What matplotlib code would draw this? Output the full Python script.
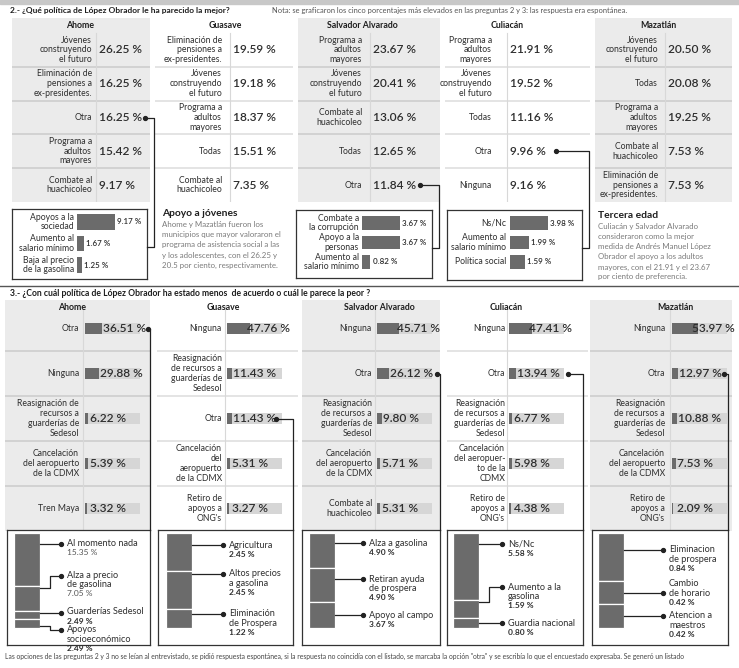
import matplotlib.pyplot as plt

plt.rcParams['font.family'] = ['Lato', 'DejaVu Sans']

W, H = 739, 668

# ---------- pregunta 2: las cinco respuestas mas altas ----------
ahome_q2_labels = ["Jóvenes\nconstruyendo\nel futuro", "Eliminación de\npensiones a\nex-presidentes.",
                   "Otra", "Programa a\nadultos\nmayores", "Combate al\nhuachicoleo"]
ahome_q2_values = [26.25, 16.25, 16.25, 15.42, 9.17]
guasave_q2_labels = ["Eliminación de\npensiones a\nex-presidentes.", "Jóvenes\nconstruyendo\nel futuro",
                     "Programa a\nadultos\nmayores", "Todas", "Combate al\nhuachicoleo"]
guasave_q2_values = [19.59, 19.18, 18.37, 15.51, 7.35]
salvador_q2_labels = ["Programa a\nadultos\nmayores", "Jóvenes\nconstruyendo\nel futuro",
                      "Combate al\nhuachicoleo", "Todas", "Otra"]
salvador_q2_values = [23.67, 20.41, 13.06, 12.65, 11.84]
culiacan_q2_labels = ["Programa a\nadultos\nmayores", "Jóvenes\nconstruyendo\nel futuro",
                      "Todas", "Otra", "Ninguna"]
culiacan_q2_values = [21.91, 19.52, 11.16, 9.96, 9.16]
mazatlan_q2_labels = ["Jóvenes\nconstruyendo\nel futuro", "Todas", "Programa a\nadultos\nmayores",
                      "Combate al\nhuachicoleo", "Eliminación de\npensiones a\nex-presidentes."]
mazatlan_q2_values = [20.50, 20.08, 19.25, 7.53, 7.53]

# desglose de "Otra" (pregunta 2)
ahome_q2_otra_labels = ["Apoyos a la\nsociedad", "Aumento al\nsalario mínimo", "Baja al precio\nde la gasolina"]
ahome_q2_otra_values = [9.17, 1.67, 1.25]
salvador_q2_otra_labels = ["Combate a\nla corrupción", "Apoyo a la\npersonas", "Aumento al\nsalario mínimo"]
salvador_q2_otra_values = [3.67, 3.67, 0.82]
culiacan_q2_otra_labels = ["Ns/Nc", "Aumento al\nsalario mínimo", "Política social"]
culiacan_q2_otra_values = [3.98, 1.99, 1.59]

# ---------- pregunta 3 ----------
ahome_q3_labels = ["Otra", "Ninguna", "Reasignación de\nrecursos a\nguarderías de\nSedesol",
                   "Cancelación\ndel aeropuerto\nde la CDMX", "Tren Maya"]
ahome_q3_values = [36.51, 29.88, 6.22, 5.39, 3.32]
guasave_q3_labels = ["Ninguna", "Reasignación\nde recursos a\nguarderías de\nSedesol", "Otra",
                     "Cancelación\ndel\naeropuerto\nde la CDMX", "Retiro de\napoyos a\nONG's"]
guasave_q3_values = [47.76, 11.43, 11.43, 5.31, 3.27]
salvador_q3_labels = ["Ninguna", "Otra", "Reasignación\nde recursos a\nguarderías de\nSedesol",
                      "Cancelación\ndel aeropuerto\nde la CDMX", "Combate al\nhuachicoleo"]
salvador_q3_values = [45.71, 26.12, 9.80, 5.71, 5.31]
culiacan_q3_labels = ["Ninguna", "Otra", "Reasignación\nde recursos a\nguarderías de\nSedesol",
                      "Cancelación\ndel aeropuer-\nto de la\nCDMX", "Retiro de\napoyos a\nONG's"]
culiacan_q3_values = [47.41, 13.94, 6.77, 5.98, 4.38]
mazatlan_q3_labels = ["Ninguna", "Otra", "Reasignación\nde recursos a\nguarderías de\nSedesol",
                      "Cancelación\ndel aeropuerto\nde la CDMX", "Retiro de\napoyos a\nONG's"]
mazatlan_q3_values = [53.97, 12.97, 10.88, 7.53, 2.09]

# desglose de "Otra" (pregunta 3)
ahome_q3_otra_labels = ["Al momento nada", "Alza a precio\nde gasolina", "Guarderías Sedesol", "Apoyos\nsocioeconómico"]
ahome_q3_otra_values = [15.35, 7.05, 2.49, 2.49]
guasave_q3_otra_labels = ["Agricultura", "Altos precios\na gasolina", "Eliminación\nde Prospera"]
guasave_q3_otra_values = [2.45, 2.45, 1.22]
salvador_q3_otra_labels = ["Alza a gasolina", "Retiran ayuda\nde prospera", "Apoyo al campo"]
salvador_q3_otra_values = [4.90, 4.90, 3.67]
culiacan_q3_otra_labels = ["Ns/Nc", "Aumento a la\ngasolina", "Guardia nacional"]
culiacan_q3_otra_values = [5.58, 1.59, 0.80]
mazatlan_q3_otra_labels = ["Eliminacion\nde prospera", "Cambio\nde horario", "Atencion a\nmaestros"]
mazatlan_q3_otra_values = [0.84, 0.42, 0.42]

DARK = '#6b6b6b'
TRACK = '#d6d6d6'
PANEL = '#ebebeb'
TXT = '#2e2e2e'
SOFT = '#7a7a7a'
SCALE_MAX = 115  # ancho de la pista gris en la pregunta 3

fig = plt.figure(figsize=(W / 100, H / 100), dpi=100)

over = fig.add_axes([0, 0, 1, 1], zorder=20)
over.set_xlim(0, W)
over.set_ylim(H, 0)
over.axis('off')


def px_axes(x0, y0, x1, y1, z=1):
    ax = fig.add_axes([x0 / W, 1 - y1 / H, (x1 - x0) / W, (y1 - y0) / H], zorder=z)
    ax.set_xticks([])
    ax.set_yticks([])
    for s in ax.spines.values():
        s.set_visible(False)
    return ax


def boxed(ax):
    ax.set_facecolor('white')
    for s in ax.spines.values():
        s.set_visible(True)
        s.set_color('#333333')
        s.set_linewidth(0.9)


def to_px(ax, x, y):
    return over.transData.inverted().transform(ax.transData.transform((x, y)))


def pct(v):
    return f"{v:.2f} %"


def link(points):
    xs = [p[0] for p in points]
    ys = [p[1] for p in points]
    over.plot(xs, ys, color='#222222', lw=0.9)
    over.plot(xs[0], ys[0], 'o', color='#222222', ms=2.8)


def q2_panel(labels, values, x0, x1, label_r, value_x, shaded):
    n = len(values)
    row_h = (202 - 33) / n
    ax = px_axes(x0, 18, x1, 202)
    ax.set_xlim(x0, x1)
    ax.set_ylim(n - 0.5, -0.5 - 15 / row_h)
    ax.set_facecolor(PANEL if shaded else 'white')
    for i in range(n):
        ax.text(label_r, i, labels[i], ha='right', va='center', fontsize=6.2,
                color=TXT, linespacing=1.1)
        ax.text(value_x, i, pct(values[i]), ha='left', va='center', fontsize=8.6,
                color=TXT, weight='semibold')
    for i in range(n - 1):
        ax.axhline(i + 0.5, color='#d0d0d0' if shaded else '#e2e2e2', lw=1.3)
    ax.plot([value_x - 3, value_x - 3], [-0.5, n - 0.5], color='#d8d8d8', lw=0.8)
    return ax


def q2_box(labels, values, x0, y0, x1, y1, bar_x, label_r, first_y, last_y):
    n = len(values)
    ax = px_axes(x0, y0, x1, y1, z=2)
    boxed(ax)
    per_px = max(values) / 38
    row_h = (last_y - first_y) / (n - 1)
    ax.set_xlim(-(bar_x - x0) * per_px, (x1 - bar_x) * per_px)
    ax.set_ylim(n - 1 + (y1 - last_y) / row_h, -(first_y - y0) / row_h)
    ax.barh(range(n), values, height=0.7, color=DARK)
    for i in range(n):
        ax.text(-(bar_x - label_r) * per_px, i, labels[i], ha='right', va='center',
                fontsize=6.2, color=TXT, linespacing=1.05)
        ax.annotate(pct(values[i]), (values[i], i), xytext=(1.5, 0), textcoords='offset points',
                    ha='left', va='center', fontsize=5.8, color=TXT, weight='semibold')
    return ax


def q2_link(ax, labels, dot_x, line_x, join_y, box_r):
    y = to_px(ax, 0, labels.index("Otra"))[1]
    link([(dot_x, y), (line_x, y), (line_x, join_y), (box_r, join_y)])


def q3_panel(labels, values, x0, x1, label_r, bar_x, shaded):
    n = len(values)
    row_h = (531 - 306) / n
    ylim = (n - 0.5, -0.5 - 6 / row_h)
    ax = px_axes(x0, 300, x1, 531)
    ax.set_xlim(x0, x1)
    ax.set_ylim(*ylim)
    ax.set_facecolor(PANEL if shaded else 'white')
    for i in range(n):
        ax.text(label_r, i, labels[i], ha='right', va='center', fontsize=6.2,
                color=TXT, linespacing=1.1)
    for i in range(n - 1):
        ax.axhline(i + 0.5, color='#d0d0d0' if shaded else '#e2e2e2', lw=1.3)
    ax.plot([bar_x - 2, bar_x - 2], [-0.5, n - 0.5], color='#d8d8d8', lw=0.8)

    bx = px_axes(bar_x, 300, bar_x + 55, 531, z=3)
    bx.patch.set_visible(False)
    bx.set_xlim(0, SCALE_MAX)
    bx.set_ylim(*ylim)
    bx.barh(range(n), [SCALE_MAX] * n, height=0.25, color=TRACK)
    bx.barh(range(n), values, height=0.25, color=DARK)
    for i, v in enumerate(values):
        bx.text(max(min(v, 40), 8) + 2, i, pct(v), ha='left', va='center', fontsize=8.6,
                color=TXT, weight='semibold')
    return ax


def q3_link(ax, labels, dot_x, line_x):
    y = to_px(ax, 0, labels.index("Otra"))[1]
    link([(dot_x, y), (line_x, y), (line_x, 530)])


def q3_box(labels, values, x0, x1, bar_x, dot_x, dot_ys, label_ys, weights):
    y0, y1, bar_top = 530, 645, 533
    ax = px_axes(x0, y0, x1, y1, z=2)
    boxed(ax)
    per_px = sum(values) / 95
    ax.set_xlim(x0, x1)
    ax.set_ylim((y1 - bar_top) * per_px, -(bar_top - y0) * per_px)
    bottoms = [sum(values[:i]) for i in range(len(values))]
    ax.bar(bar_x + 13, values, width=26, bottom=bottoms, color=DARK,
           edgecolor='white', linewidth=0.9)
    ls = 9.2
    for i, v in enumerate(values):
        top = to_px(ax, bar_x, bottoms[i])[1]
        bot = to_px(ax, bar_x, bottoms[i] + v)[1]
        dy = dot_ys[i]
        ay = min(max(dy, top + 2), bot - 2)
        pts = [(dot_x, dy)]
        if abs(ay - dy) > 0.5:
            pts += [(bar_x + 36, dy), (bar_x + 36, ay)]
        pts.append((bar_x + 26, ay))
        link(pts)
        lines = labels[i].split('\n')
        for j, line in enumerate(lines):
            over.text(dot_x + 6, label_ys[i] + j * ls, line, ha='left', va='center',
                      fontsize=6.6, color=TXT, zorder=5)
        over.text(dot_x + 6, label_ys[i] + len(lines) * ls, pct(v), ha='left', va='center',
                  fontsize=6.0, color=TXT if weights[i] == 'bold' else '#555555',
                  weight=weights[i], zorder=5)


def note(x, y, title, lines):
    over.text(x, y, title, ha='left', va='center', fontsize=7.4, weight='bold', color='#1e1e1e')
    for j, line in enumerate(lines):
        over.text(x, y + 12 + j * 10, line, ha='left', va='center', fontsize=5.7, color=SOFT)


# ---------- encabezado ----------
over.axhspan(0, 4, color='#c8c8c8')
over.text(10, 11, "2.- ¿Qué política de López Obrador le ha parecido la mejor?", ha='left',
          va='center', fontsize=6.0, weight='bold', color='#1e1e1e')
over.text(272, 11, "Nota: se graficaron los cinco porcentajes más elevados en las preguntas 2 y 3: "
          "las respuesta era espontánea.", ha='left', va='center', fontsize=5.4, color='#555555')

# ---------- pregunta 2 ----------
a2 = q2_panel(ahome_q2_labels, ahome_q2_values, 12, 150, 92, 99, True)
g2 = q2_panel(guasave_q2_labels, guasave_q2_values, 155, 293, 222, 233, False)
s2 = q2_panel(salvador_q2_labels, salvador_q2_values, 298, 440, 362, 373, True)
c2 = q2_panel(culiacan_q2_labels, culiacan_q2_values, 445, 590, 492, 510, False)
m2 = q2_panel(mazatlan_q2_labels, mazatlan_q2_values, 595, 732, 658, 668, True)
for name, hx in zip(["Ahome", "Guasave", "Salvador Alvarado", "Culiacán", "Mazatlán"],
                    [80, 225, 362, 507, 658]):
    over.text(hx, 26, name, ha='center', va='center', fontsize=6.3, weight='bold', color='#1e1e1e')

q2_box(ahome_q2_otra_labels, ahome_q2_otra_values, 12, 209, 147, 279, 77, 74, 222, 265)
q2_box(salvador_q2_otra_labels, salvador_q2_otra_values, 296, 210, 432, 278, 362, 359, 223, 262)
q2_box(culiacan_q2_otra_labels, culiacan_q2_otra_values, 447, 210, 582, 280, 510, 506, 223, 262)
q2_link(a2, ahome_q2_labels, 145, 154, 247, 147)
q2_link(s2, salvador_q2_labels, 420, 439, 248, 432)
q2_link(c2, culiacan_q2_labels, 556, 589, 248, 582)

note(162, 213, "Apoyo a jóvenes",
     ["Ahome y Mazatlán fueron los", "municipios que mayor valoraron el",
      "programa de asistencia social a las", "y los adolescentes, con el 26.25 y",
      "20.5 por ciento, respectivamente."])
note(598, 215, "Tercera edad",
     ["Culiacán y Salvador Alvarado", "consideraron como la mejor",
      "medida de Andrés Manuel López", "Obrador el apoyo a los adultos",
      "mayores, con el 21.91 y el 23.67", "por ciento de preferencia."])

# ---------- pregunta 3 ----------
over.plot([0, W], [286, 286], color='#555555', lw=1)
over.text(10, 293, "3.- ¿Con cuál política de López Obrador ha estado menos  de acuerdo o cuál le parece la peor ?",
          ha='left', va='center', fontsize=6.2, weight='bold', color='#1e1e1e')

a3 = q3_panel(ahome_q3_labels, ahome_q3_values, 5, 150, 79, 85, True)
g3 = q3_panel(guasave_q3_labels, guasave_q3_values, 157, 298, 222, 227, False)
s3 = q3_panel(salvador_q3_labels, salvador_q3_values, 302, 440, 372, 377, True)
c3 = q3_panel(culiacan_q3_labels, culiacan_q3_values, 447, 588, 505, 509, False)
m3 = q3_panel(mazatlan_q3_labels, mazatlan_q3_values, 590, 732, 665, 672, True)
for name, hx in zip(["Ahome", "Guasave", "Salvador Alvarado", "Culiacán", "Mazatlán"],
                    [72, 223, 379, 506, 675]):
    over.text(hx, 307, name, ha='center', va='center', fontsize=6.3, weight='bold', color='#1e1e1e')

q3_link(a3, ahome_q3_labels, 148, 150)
q3_link(g3, guasave_q3_labels, 276, 293)
q3_link(s3, salvador_q3_labels, 437, 440)
q3_link(c3, culiacan_q3_labels, 568, 583)
q3_link(m3, mazatlan_q3_labels, 724, 728)

q3_box(ahome_q3_otra_labels, ahome_q3_otra_values, 7, 150, 14, 61,
       [544, 576, 613, 630], [543, 575, 612, 630], ['normal', 'normal', 'bold', 'bold'])
q3_box(guasave_q3_otra_labels, guasave_q3_otra_values, 158, 293, 166, 223,
       [545, 574, 614], [545, 574, 614], ['bold', 'bold', 'bold'])
q3_box(salvador_q3_otra_labels, salvador_q3_otra_values, 302, 440, 309, 363,
       [543, 579, 615], [543, 579, 615], ['bold', 'bold', 'bold'])
q3_box(culiacan_q3_otra_labels, culiacan_q3_otra_values, 447, 583, 453, 502,
       [544, 587, 623], [544, 587, 623], ['bold', 'bold', 'bold'])
q3_box(mazatlan_q3_otra_labels, mazatlan_q3_otra_values, 592, 728, 598, 663,
       [550, 593, 616], [550, 584, 616], ['bold', 'bold', 'bold'])

over.text(5, 656, "Las opciones de las preguntas 2 y 3 no se leían al entrevistado, se pidió respuesta espontánea, "
          "si la respuesta no coincidía con el listado, se marcaba la opción \"otra\" y se escribía lo que el "
          "encuestado expresaba. Se generó un listado", ha='left', va='center', fontsize=4.9, color='#444444')

fig.savefig("out.png", dpi=100)
